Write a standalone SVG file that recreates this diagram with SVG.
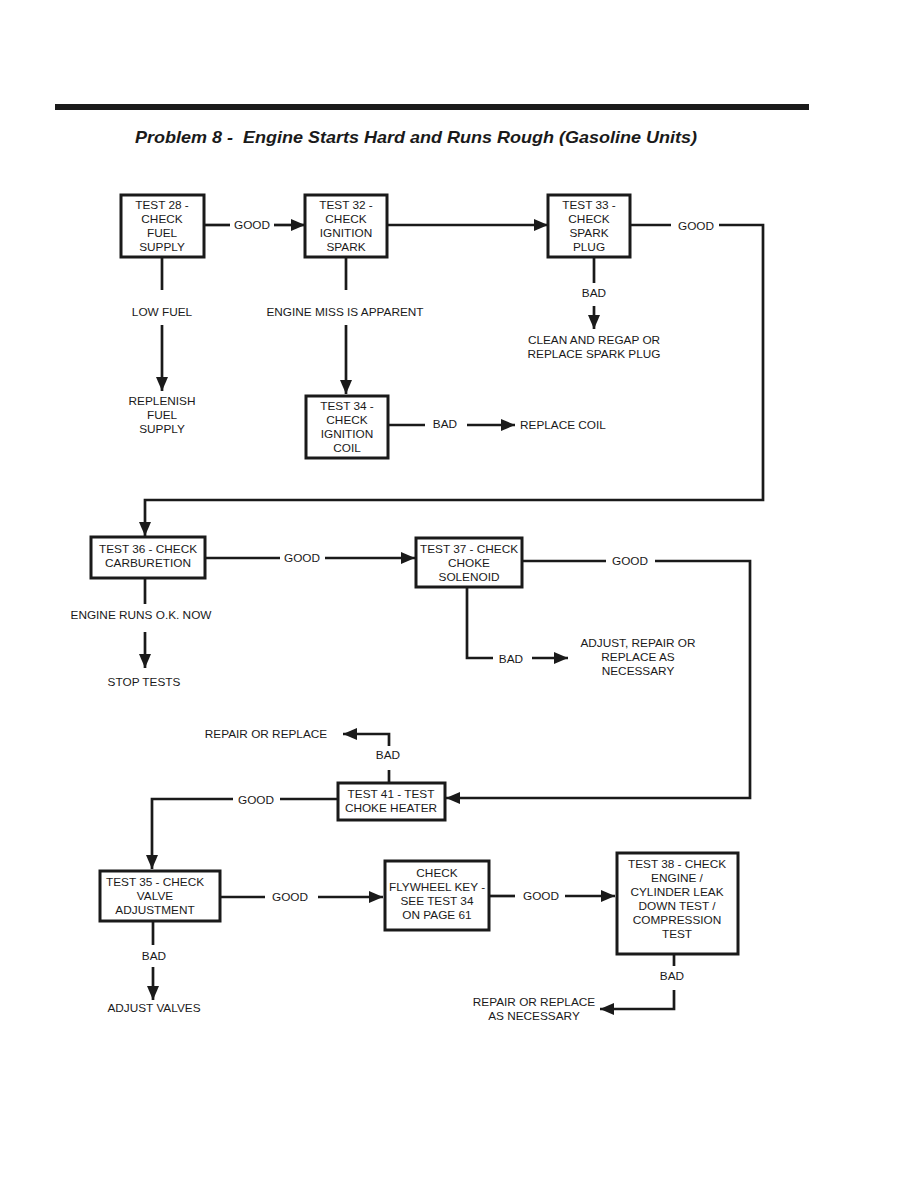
<svg xmlns="http://www.w3.org/2000/svg" width="918" height="1188" viewBox="0 0 918 1188">
<defs>
<marker id="ah" viewBox="0 0 14 12" refX="14" refY="6" markerWidth="14" markerHeight="12" markerUnits="userSpaceOnUse" orient="auto"><path d="M0,0 L14,6 L0,12 z" fill="#1a1a1a"/></marker>
<style>
text{font-family:"Liberation Sans",Arial,sans-serif;font-size:11.8px;fill:#1a1a1a;text-anchor:middle}
.box{fill:#fff;stroke:#1a1a1a;stroke-width:3}
.c{fill:none;stroke:#1a1a1a;stroke-width:2.7}
.a{marker-end:url(#ah)}
.l{text-anchor:start}
</style>
</defs>
<rect x="55" y="104" width="754" height="6" fill="#1a1a1a"/>
<text x="135" y="143" class="l" xml:space="preserve" style="font-size:17px;font-weight:bold;font-style:italic;white-space:pre" textLength="562" lengthAdjust="spacingAndGlyphs">Problem 8 -  Engine Starts Hard and Runs Rough (Gasoline Units)</text>

<g id="connectors">
<path class="c" d="M204,225 H230"/><path class="c a" d="M274,225 H305"/>
<path class="c a" d="M387,225 H548"/>
<path class="c" d="M630,225 H671"/><path class="c a" d="M719,225 H763 V500 H145 V536"/>
<path class="c" d="M162,257 V290"/><path class="c a" d="M162,325 V391"/>
<path class="c" d="M346,257 V290"/><path class="c a" d="M346,325 V394"/>
<path class="c" d="M388,425 H425"/><path class="c a" d="M467,425 H515"/>
<path class="c" d="M594,257 V283"/><path class="c a" d="M594,306 V329"/>
<path class="c" d="M205,558 H280"/><path class="c a" d="M325,558 H415"/>
<path class="c" d="M522,561 H606"/><path class="c a" d="M655,561 H750 V798 H446"/>
<path class="c" d="M467,587 V658 H493"/><path class="c a" d="M532,658 H568"/>
<path class="c" d="M145,578 V604"/><path class="c a" d="M145,632 V668"/>
<path class="c" d="M389,783 V770"/><path class="c a" d="M389,746 V734 H343"/>
<path class="c" d="M338,799 H280"/><path class="c a" d="M233,799 H152 V869"/>
<path class="c" d="M220,897 H265"/><path class="c a" d="M318,897 H383"/>
<path class="c" d="M489,896 H515"/><path class="c a" d="M565,896 H615"/>
<path class="c" d="M674,954 V966"/><path class="c a" d="M674,990 V1009 H600"/>
<path class="c" d="M153,921 V945"/><path class="c a" d="M153,967 V1000"/>
</g>

<g id="labels">
<text x="252" y="229">GOOD</text>
<text x="696" y="230">GOOD</text>
<text x="162" y="316">LOW FUEL</text>
<text x="162" y="405">REPLENISH</text><text x="162" y="419">FUEL</text><text x="162" y="433">SUPPLY</text>
<text x="345" y="316">ENGINE MISS IS APPARENT</text>
<text x="445" y="428">BAD</text>
<text x="520" y="429" class="l">REPLACE COIL</text>
<text x="594" y="297">BAD</text>
<text x="594" y="344">CLEAN AND REGAP OR</text><text x="594" y="358">REPLACE SPARK PLUG</text>
<text x="302" y="562">GOOD</text>
<text x="630" y="565">GOOD</text>
<text x="511" y="663">BAD</text>
<text x="638" y="647">ADJUST, REPAIR OR</text><text x="638" y="661">REPLACE AS</text><text x="638" y="675">NECESSARY</text>
<text x="141" y="619">ENGINE RUNS O.K. NOW</text>
<text x="144" y="686">STOP TESTS</text>
<text x="266" y="738">REPAIR OR REPLACE</text>
<text x="388" y="759">BAD</text>
<text x="256" y="804">GOOD</text>
<text x="290" y="901">GOOD</text>
<text x="541" y="900">GOOD</text>
<text x="154" y="960">BAD</text>
<text x="154" y="1012">ADJUST VALVES</text>
<text x="672" y="980">BAD</text>
<text x="534" y="1006">REPAIR OR REPLACE</text><text x="534" y="1020">AS NECESSARY</text>
</g>

<g id="n28"><rect class="box" x="121" y="195" width="83" height="62"/><text x="162" y="209">TEST 28 -</text><text x="162" y="223">CHECK</text><text x="162" y="237">FUEL</text><text x="162" y="251">SUPPLY</text></g>
<g id="n32"><rect class="box" x="305" y="195" width="82" height="62"/><text x="346" y="209">TEST 32 -</text><text x="346" y="223">CHECK</text><text x="346" y="237">IGNITION</text><text x="346" y="251">SPARK</text></g>
<g id="n33"><rect class="box" x="548" y="195" width="82" height="62"/><text x="589" y="209">TEST 33 -</text><text x="589" y="223">CHECK</text><text x="589" y="237">SPARK</text><text x="589" y="251">PLUG</text></g>
<g id="n34"><rect class="box" x="306" y="396" width="82" height="62"/><text x="347" y="410">TEST 34 -</text><text x="347" y="424">CHECK</text><text x="347" y="438">IGNITION</text><text x="347" y="452">COIL</text></g>
<g id="n36"><rect class="box" x="91" y="537" width="114" height="41"/><text x="148" y="553">TEST 36 - CHECK</text><text x="148" y="567">CARBURETION</text></g>
<g id="n37"><rect class="box" x="416" y="538" width="106" height="49"/><text x="469" y="553">TEST 37 - CHECK</text><text x="469" y="567">CHOKE</text><text x="469" y="581">SOLENOID</text></g>
<g id="n41"><rect class="box" x="338" y="783" width="107" height="37"/><text x="391" y="798">TEST 41 - TEST</text><text x="391" y="812">CHOKE HEATER</text></g>
<g id="n35"><rect class="box" x="100" y="871" width="120" height="50"/><text x="155" y="886">TEST 35 - CHECK</text><text x="155" y="900">VALVE</text><text x="155" y="914">ADJUSTMENT</text></g>
<g id="nfly"><rect class="box" x="385" y="861" width="104" height="69"/><text x="437" y="877">CHECK</text><text x="437" y="891">FLYWHEEL KEY -</text><text x="437" y="905">SEE TEST 34</text><text x="437" y="919">ON PAGE 61</text></g>
<g id="n38"><rect class="box" x="617" y="853" width="121" height="101"/><text x="677" y="868">TEST 38 - CHECK</text><text x="677" y="882">ENGINE /</text><text x="677" y="896">CYLINDER LEAK</text><text x="677" y="910">DOWN TEST /</text><text x="677" y="924">COMPRESSION</text><text x="677" y="938">TEST</text></g>
</svg>
